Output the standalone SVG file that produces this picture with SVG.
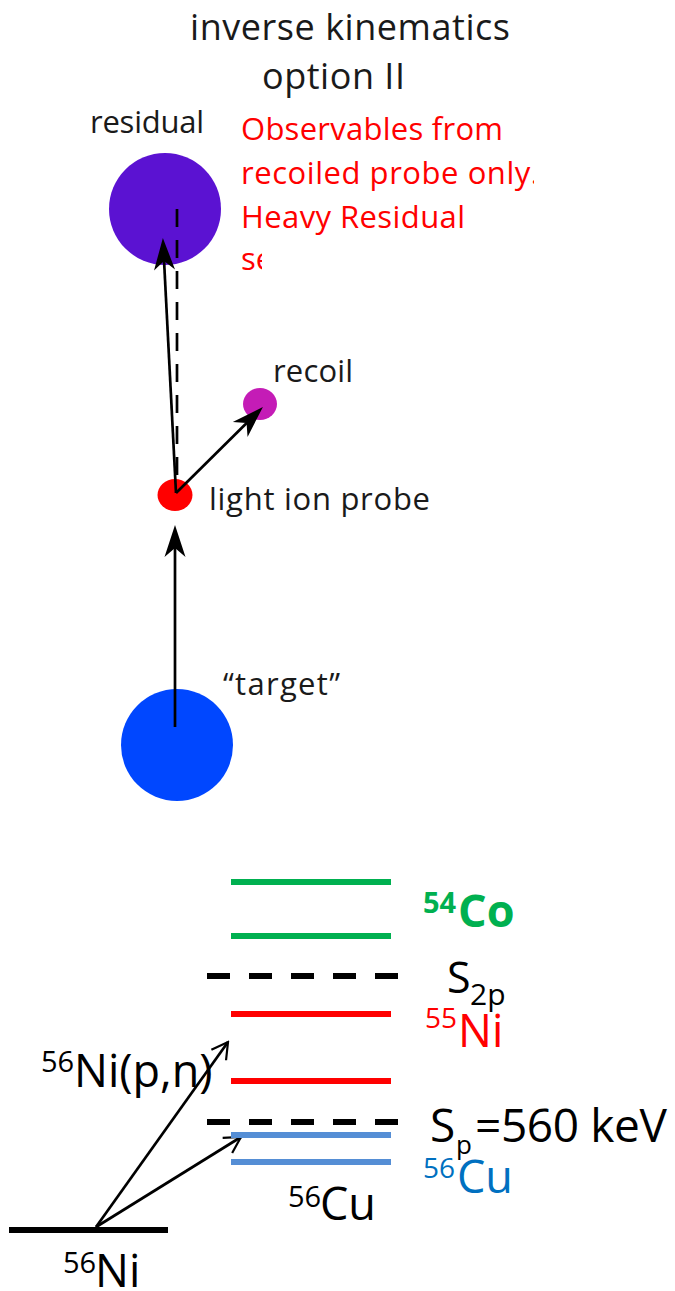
<svg xmlns="http://www.w3.org/2000/svg" width="675" height="1291" viewBox="0 0 675 1291">
<style>
text{font-family:"Open Sans","Noto Sans","Liberation Sans",sans-serif;}
.lbl{font-size:31px;fill:#1a1a1a;}
.red{font-size:31px;fill:#ff0000;}
.big{font-size:45px;fill:#000;}
.sup{font-size:29px;fill:#000;}
.conn{stroke:#000;stroke-width:2.7;fill:none;}
.lvl{stroke-width:6;fill:none;}
.dash{stroke:#000;stroke-width:6;stroke-dasharray:23 19;fill:none;}
</style>
<defs>
<marker id="fillhead" markerUnits="userSpaceOnUse" viewBox="-14 -12 36 24" markerWidth="36" markerHeight="24" refX="0" refY="0" orient="auto">
<path d="M20,0 L-12,-10.5 L-3,0 L-12,10.5 Z" fill="#000"/>
</marker>
<marker id="openhead" markerUnits="userSpaceOnUse" viewBox="-18 -11 20 22" markerWidth="20" markerHeight="22" refX="0" refY="0" orient="auto">
<path d="M-16,-9 L0,0 L-16,9" fill="none" stroke="#000" stroke-width="2.2"/>
</marker>
<clipPath id="clipTxt"><rect x="230" y="100" width="304" height="140"/></clipPath>
<clipPath id="clipSe"><rect x="230" y="240" width="32" height="40"/></clipPath>
</defs>

<g id="title">
<text x="190" y="40" font-size="36" fill="#1a1a1a" textLength="320">inverse kinematics</text>
<text x="262" y="89" font-size="36" fill="#1a1a1a" textLength="143">option II</text>
</g>

<g id="note">
<g clip-path="url(#clipTxt)">
<text class="red" x="241" y="140" textLength="262">Observables from</text>
<text class="red" x="241" y="184" textLength="298">recoiled probe only.</text>
<text class="red" x="241" y="228" textLength="224">Heavy Residual</text>
</g>
<g clip-path="url(#clipSe)">
<text class="red" x="241" y="270">se</text>
</g>
</g>

<g id="residual">
<circle cx="165" cy="209" r="56" fill="#5b12d2"/>
<text class="lbl" x="90" y="133" textLength="114">residual</text>
</g>

<g id="recoil">
<ellipse cx="260" cy="404" rx="17" ry="16" fill="#c41cb6"/>
<text class="lbl" x="273" y="382" textLength="80">recoil</text>
</g>

<g id="probe">
<ellipse cx="175" cy="495" rx="17.5" ry="16" fill="#ff0000"/>
<text class="lbl" x="209" y="510" textLength="221">light ion probe</text>
</g>

<g id="target">
<circle cx="177" cy="745" r="56" fill="#0047ff"/>
<text class="lbl" x="223" y="695" textLength="117">“target”</text>
</g>

<g id="connectors">
<line class="conn" x1="177" y1="209" x2="177" y2="485" stroke-dasharray="18 13"/>
<line class="conn" x1="175" y1="727" x2="175" y2="545" marker-end="url(#fillhead)"/>
<line class="conn" x1="176" y1="493" x2="163.9" y2="258" marker-end="url(#fillhead)"/>
<line class="conn" x1="176" y1="493" x2="248.7" y2="421" marker-end="url(#fillhead)"/>
<line class="conn" x1="96" y1="1227" x2="228" y2="1042" marker-end="url(#openhead)"/>
<line class="conn" x1="96" y1="1227" x2="241" y2="1137" marker-end="url(#openhead)"/>
</g>

<g id="co54">
<line class="lvl" x1="231" y1="882" x2="391" y2="882" stroke="#00b050"/>
<line class="lvl" x1="231" y1="936" x2="391" y2="936" stroke="#00b050"/>
<text x="423" y="913" font-size="29" font-weight="bold" fill="#00b050">54</text>
<text x="458" y="927" font-size="45" font-weight="bold" fill="#00b050">Co</text>
</g>

<g id="s2p">
<line class="dash" x1="207" y1="976" x2="399" y2="976"/>
<text x="447" y="993" font-size="43" fill="#000">S</text>
<text x="470" y="1005" font-size="30" fill="#000">2p</text>
</g>

<g id="ni55">
<line class="lvl" x1="231" y1="1014" x2="391" y2="1014" stroke="#ff0000"/>
<line class="lvl" x1="231" y1="1081" x2="391" y2="1081" stroke="#ff0000"/>
<text x="425" y="1028" font-size="28" fill="#ff0000">55</text>
<text x="458" y="1047" font-size="45" fill="#ff0000">Ni</text>
</g>

<g id="sp">
<line class="dash" x1="207" y1="1122" x2="399" y2="1122"/>
<text x="430" y="1142" font-size="46" fill="#000">S</text>
<text x="456" y="1154" font-size="26" fill="#000">p</text>
<text x="475" y="1142" font-size="46" fill="#000" textLength="192">=560 keV</text>
</g>

<g id="cu56">
<line class="lvl" x1="231" y1="1135" x2="391" y2="1135" stroke="#558ed5" stroke-width="5"/>
<line class="lvl" x1="231" y1="1162" x2="391" y2="1162" stroke="#558ed5" stroke-width="5"/>
<text x="423" y="1178" font-size="28" fill="#0070c0">56</text>
<text x="457" y="1193" font-size="45" fill="#0070c0">Cu</text>
<text class="sup" x="288" y="1207">56</text>
<text class="big" x="320" y="1220">Cu</text>
</g>

<g id="ni56">
<line x1="9" y1="1230" x2="168" y2="1230" stroke="#000" stroke-width="6"/>
<text class="sup" x="63" y="1273">56</text>
<text class="big" x="95" y="1287">Ni</text>
</g>

<g id="reaction">
<text class="sup" x="41" y="1072">56</text>
<text class="big" x="74" y="1087">Ni(p,n)</text>
</g>
</svg>
